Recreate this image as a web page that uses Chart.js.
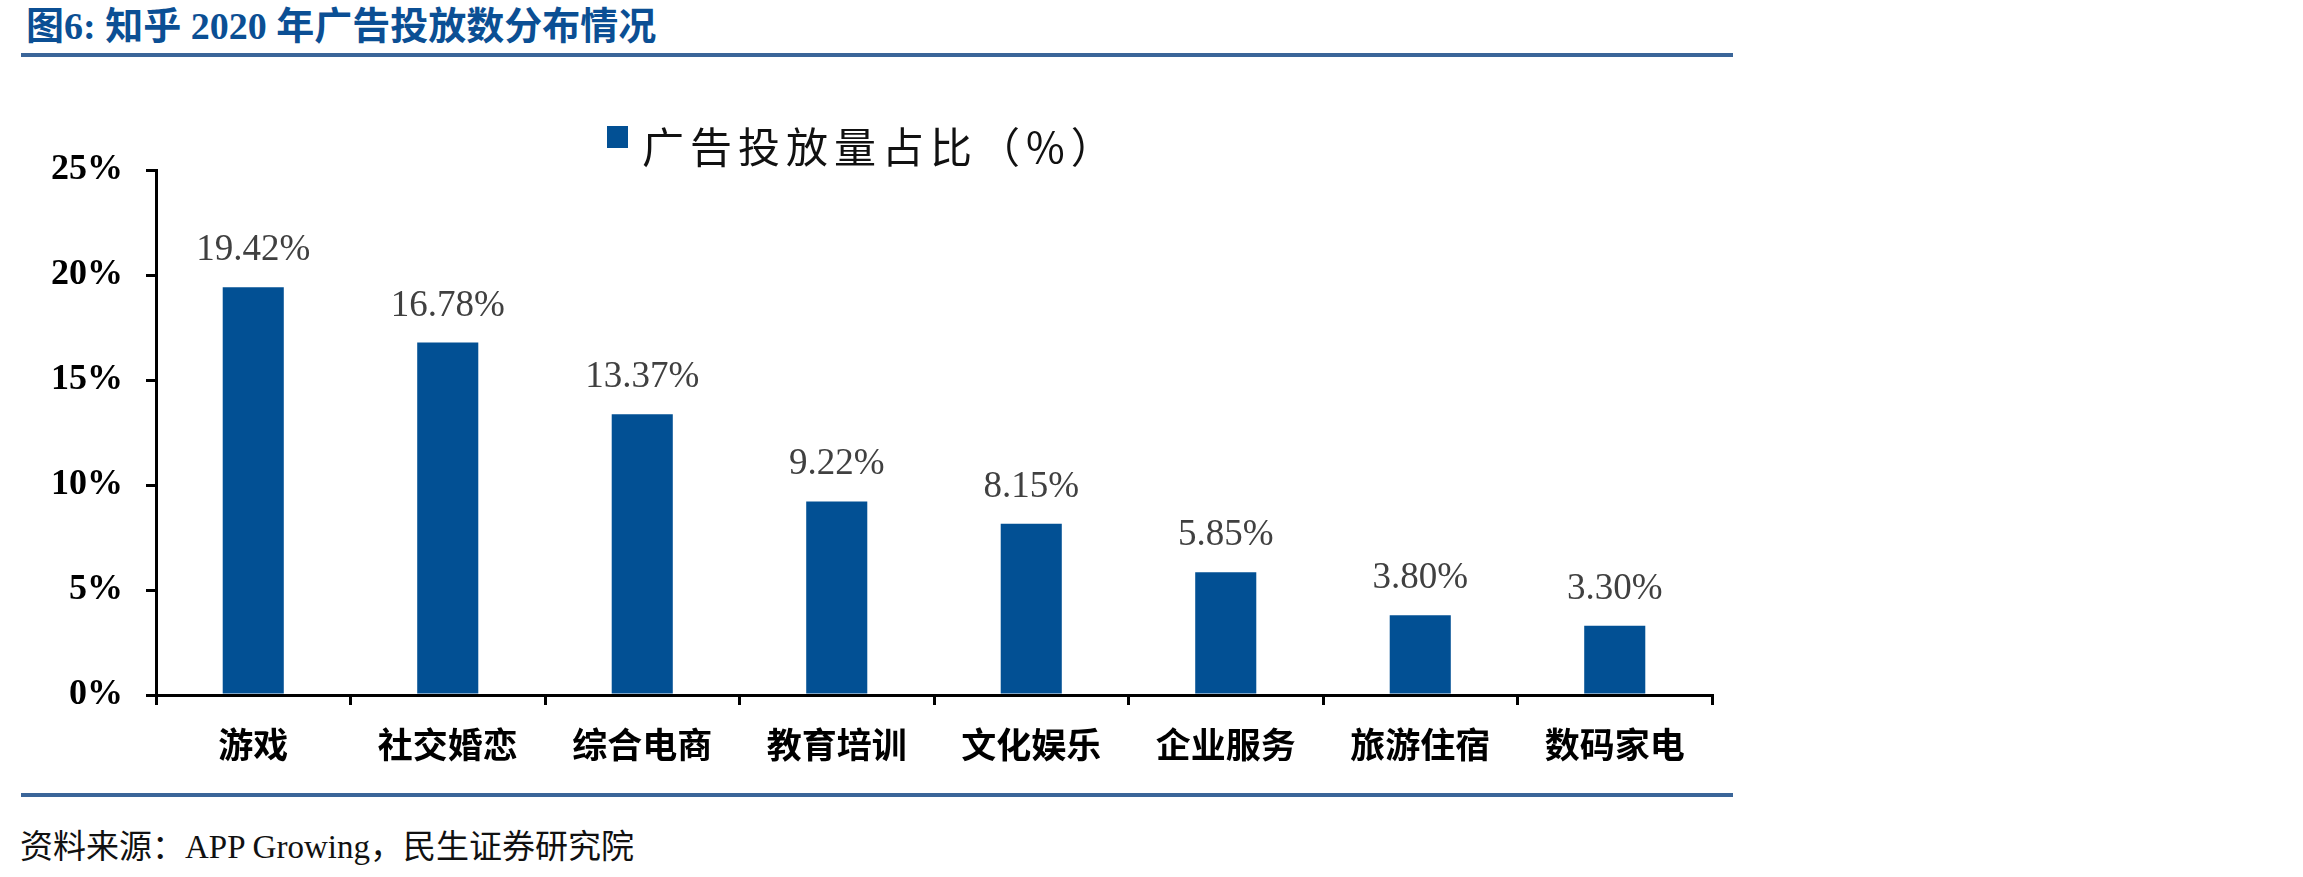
<!DOCTYPE html>
<html>
<head>
<meta charset="utf-8">
<script src="https://cdn.jsdelivr.net/npm/chart.js@4.4.1/dist/chart.umd.min.js"></script>
<style>
  body { margin: 0; width: 2303px; height: 877px; background: #fff; position: relative; overflow: hidden; }
  .abs { position: absolute; white-space: nowrap; }
  #title { left: 26px; top: 7px; font: bold 38px/38px "Liberation Serif", "Noto Sans CJK SC"; color: #0b4f94; }
  .rule { position: absolute; left: 21px; width: 1712px; height: 4px; background: #3a6599; }
  #legendBox { left: 607px; top: 126px; width: 21px; height: 22px; background: #025094; }
  #legendText { left: 642px; top: 124px; font: 42px/42px "Noto Sans CJK SC", "Liberation Serif"; letter-spacing: 6px; color: #111; }
  #source { left: 20px; top: 831px; font: 33px/33px "Liberation Serif", "Noto Sans CJK SC"; color: #111; }
  #chart { position: absolute; left: 0; top: 0; }
</style>
</head>
<body>
<div id="title" class="abs">图6: 知乎 2020 年广告投放数分布情况</div>
<div class="rule" style="top:53px"></div>
<canvas id="chart" width="1760" height="800"></canvas>
<div id="legendBox" class="abs"></div>
<div id="legendText" class="abs">广告投放量占比（%）</div>
<div class="rule" style="top:793px"></div>
<div id="source" class="abs">资料来源：APP Growing，民生证券研究院</div>

<script>
const categories = ["游戏", "社交婚恋", "综合电商", "教育培训", "文化娱乐", "企业服务", "旅游住宿", "数码家电"];
const shares = [19.42, 16.78, 13.37, 9.22, 8.15, 5.85, 3.80, 3.30];
const yTicks = [0, 5, 10, 15, 20, 25];

// value labels above each bar
const barLabels = {
  id: "barLabels",
  afterDatasetsDraw(chart) {
    const ctx = chart.ctx;
    const meta = chart.getDatasetMeta(0);
    ctx.save();
    ctx.font = '37px "Liberation Serif"';
    ctx.fillStyle = "#404040";
    ctx.textAlign = "center";
    ctx.textBaseline = "alphabetic";
    meta.data.forEach((bar, i) => {
      ctx.fillText(shares[i].toFixed(2) + "%", bar.x, bar.y - 27);
    });
    ctx.restore();
  }
};

new Chart(document.getElementById("chart"), {
  type: "bar",
  data: {
    labels: categories,
    datasets: [{
      label: "广告投放量占比（%）",
      data: shares,
      backgroundColor: "#025094",
      borderWidth: 0,
      categoryPercentage: 1,
      barPercentage: 0.314
    }]
  },
  options: {
    responsive: false,
    animation: false,
    layout: { padding: { left: 0, top: 170, right: 48, bottom: 0 } },
    plugins: {
      legend: { display: false },
      tooltip: { enabled: false }
    },
    scales: {
      y: {
        min: 0,
        max: 25,
        afterFit(scale) { scale.width = 156; },
        afterBuildTicks(scale) { scale.ticks = yTicks.map(v => ({ value: v })); },
        ticks: {
          color: "#000",
          padding: 23,
          font: { family: "Liberation Serif", size: 36, weight: "bold" },
          callback: v => v + "%"
        },
        grid: { drawOnChartArea: false, drawTicks: true, tickLength: 10, color: "#000", lineWidth: 3 },
        border: { display: true, color: "#000", width: 3 }
      },
      x: {
        afterFit(scale) { scale.height = 105; },
        ticks: {
          color: "#000",
          padding: 19,
          font: { family: "Noto Sans CJK SC", size: 35, weight: "bold" }
        },
        grid: { offset: true, drawOnChartArea: false, drawTicks: true, tickLength: 10, color: "#000", lineWidth: 3 },
        border: { display: true, color: "#000", width: 3 }
      }
    }
  },
  plugins: [barLabels]
});
</script>
</body>
</html>
